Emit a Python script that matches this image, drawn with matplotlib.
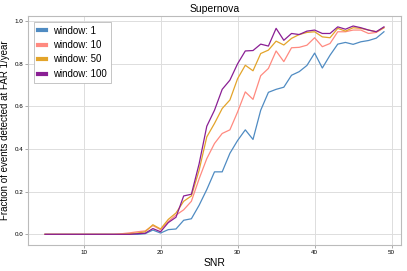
import numpy as np
import matplotlib
matplotlib.use("Agg")
import matplotlib.pyplot as plt

plt.rcParams['font.family'] = ['Liberation Sans', 'DejaVu Sans']

snr = list(range(5, 50))

# fraction detected, SNR 5..49
zeros10 = [0.0] * 10  # SNR 5..14
win1 = zeros10 + [0.0, 0.0, 0.0, 0.003, 0.02, 0.006, 0.022, 0.025, 0.066, 0.073,
                  0.136, 0.21, 0.293, 0.293, 0.38, 0.44, 0.49, 0.445, 0.582, 0.666,
                  0.68, 0.69, 0.746, 0.763, 0.792, 0.85, 0.78, 0.84, 0.892, 0.9,
                  0.891, 0.903, 0.909, 0.92, 0.95]
win10 = zeros10 + [0.003, 0.007, 0.012, 0.016, 0.041, 0.022, 0.06, 0.09, 0.115, 0.155,
                   0.26, 0.355, 0.426, 0.473, 0.49, 0.574, 0.668, 0.633, 0.744, 0.778,
                   0.86, 0.81, 0.875, 0.877, 0.887, 0.922, 0.88, 0.895, 0.95, 0.95,
                   0.958, 0.958, 0.942, 0.947, 0.969]
win50 = zeros10 + [0.0, 0.003, 0.006, 0.012, 0.045, 0.025, 0.07, 0.1, 0.155, 0.18,
                   0.3, 0.457, 0.52, 0.59, 0.63, 0.73, 0.793, 0.767, 0.848, 0.864,
                   0.906, 0.888, 0.919, 0.937, 0.947, 0.95, 0.926, 0.922, 0.966, 0.953,
                   0.969, 0.966, 0.958, 0.95, 0.969]
win100 = zeros10 + [0.0, 0.0, 0.003, 0.005, 0.027, 0.012, 0.055, 0.08, 0.18, 0.188,
                    0.33, 0.507, 0.582, 0.68, 0.723, 0.8, 0.86, 0.862, 0.892, 0.883,
                    0.966, 0.91, 0.942, 0.937, 0.953, 0.958, 0.942, 0.942, 0.973, 0.962,
                    0.977, 0.969, 0.958, 0.95, 0.973]

labels = ["window: 1", "window: 10", "window: 50", "window: 100"]
colors = ["#4f8bc2", "#ff8a80", "#e3a42a", "#8a1f94"]

fig = plt.figure(figsize=(4.07, 2.71), dpi=100)
ax = fig.add_axes([0.069, 0.096, 0.916, 0.845])

for y, lab, c in zip([win1, win10, win50, win100], labels, colors):
    ax.plot(snr, y, color=c, lw=0.9, label=lab)

ax.set_xticks([10, 20, 30, 40, 50])
ax.set_yticks([0.0, 0.2, 0.4, 0.6, 0.8, 1.0])
ax.set_xlim(2.8, 51.2)
ax.set_ylim(-0.05, 1.024)
ax.grid(True, color="#dddddd", lw=0.7)
ax.set_axisbelow(True)
for s in ax.spines.values():
    s.set_color("#bbbbbb")
    s.set_linewidth(0.8)
ax.tick_params(labelsize=4.5, length=2, width=0.5, color="#888888", pad=1.5)

ax.set_title("Supernova", fontsize=7.5, pad=3)
ax.set_xlabel("SNR", fontsize=7.5, labelpad=2)
ax.set_ylabel("Fraction of events detected at FAR 1/year", fontsize=7, labelpad=3)

leg = ax.legend(loc="upper left", fontsize=7, handlelength=0.8, handleheight=0.6,
                borderaxespad=0.6, labelspacing=0.45, fancybox=False, framealpha=1)
leg.get_frame().set_edgecolor("#bbbbbb")
leg.get_frame().set_linewidth(0.6)
for h in leg.get_lines():
    h.set_linewidth(3)

fig.savefig("out.png", dpi=100)
